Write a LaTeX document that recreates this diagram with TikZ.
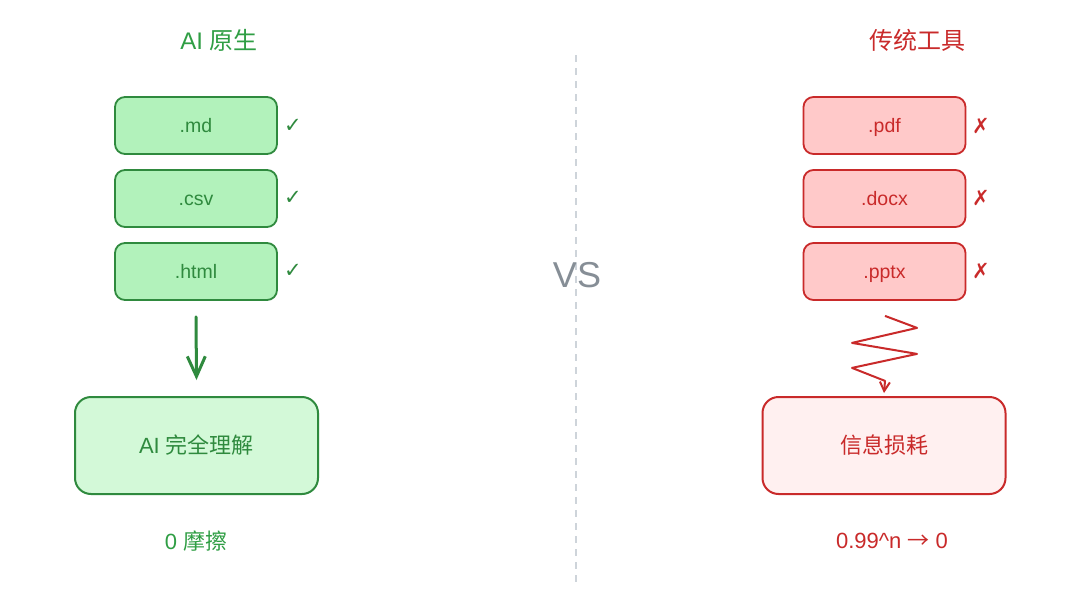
\documentclass[tikz,border=0pt]{standalone}
\usepackage{fontspec}
\setmainfont{Liberation Sans}
\newfontfamily\cjk{Noto Sans CJK SC}
\newfontfamily\sym{DejaVu Sans}
\usetikzlibrary{arrows.meta,calc}
\definecolor{gstroke}{HTML}{2F8A3E}
\definecolor{gtext}{HTML}{2F9E44}
\definecolor{gfill}{HTML}{B2F2BB}
\definecolor{gfilllight}{HTML}{D3F9D8}
\definecolor{rstroke}{HTML}{C92A2A}
\definecolor{rtext}{HTML}{C92A2A}
\definecolor{rfill}{HTML}{FFC9C9}
\definecolor{rfilllight}{HTML}{FFF0F0}
\definecolor{vsgray}{HTML}{868E96}
\definecolor{divgray}{HTML}{CED4DA}
\tikzset{
  fmt/.style={font=\fontsize{19.5}{23}\selectfont},
  smallbox/.style={rounded corners=10pt, line width=1.8pt, minimum width=162pt, minimum height=57pt, fmt, text height=15pt, text depth=2pt},
  gsmall/.style={smallbox, draw=gstroke, fill=gfill, text=gstroke},
  rsmall/.style={smallbox, draw=rstroke, fill=rfill, text=rstroke},
  bigbox/.style={rounded corners=16pt, line width=2pt, minimum width=243pt, minimum height=97pt, font=\fontsize{22}{26}\selectfont},
  gbig/.style={bigbox, draw=gstroke, fill=gfilllight, text=gstroke},
  rbig/.style={bigbox, draw=rstroke, fill=rfilllight, text=rstroke},
  title/.style={font=\fontsize{24}{28}\selectfont},
  tick/.style={font=\sym\bfseries\fontsize{21}{24}\selectfont},
  foot/.style={font=\fontsize{22}{26}\selectfont},
}
\begin{document}
\begin{tikzpicture}[x=1pt,y=-1pt]
\useasboundingbox (0,0) rectangle (1080,608);
\fill[white] (0,0) rectangle (1080,608);

% divider
\coordinate (dtop) at (576,55);
\coordinate (dbot) at (576,583);
\draw[divgray, line width=1.5pt, dash pattern=on 7pt off 6pt] (dtop) -- (dbot);
\node[text=vsgray, font=\fontsize{36}{40}\selectfont] (vs) at (577,275) {VS};

% left side
\node[title, text=gtext] (ltitle) at (219,40) {AI {\cjk 原生}};
\node[gsmall] (md) at (196,125.5) {.md};
\node[gsmall] (csv) at (196,198.5) {.csv};
\node[gsmall] (html) at (196,271.5) {.html};
\node[tick, text=gstroke] (c1) at (293,126) {✓};
\node[tick, text=gstroke] (c2) at (293,198) {✓};
\node[tick, text=gstroke] (c3) at (293,271) {✓};
\node[gbig] (ai) at (196.5,445.5) {AI {\cjk 完全理解}};
\draw[gstroke, line width=3pt, line cap=round, -{Straight Barb[length=20pt,width=18pt,line width=3pt]}]
  ($(html.south)+(0,16)$) -- ($(ai.north)+(0,-16)$);
\node[foot, text=gtext] (l0) at (196,541) {0 {\cjk 摩擦}};

% right side
\node[title, text=rtext, font=\cjk\fontsize{24}{28}\selectfont] (rtitle) at (917,40) {传统工具};
\node[rsmall] (pdf) at (884.5,125.5) {.pdf};
\node[rsmall] (docx) at (884.5,198.5) {.docx};
\node[rsmall] (pptx) at (884.5,271.5) {.pptx};
\node[tick, text=rstroke] (x1) at (981,126) {✗};
\node[tick, text=rstroke] (x2) at (981,198) {✗};
\node[tick, text=rstroke] (x3) at (981,271) {✗};
\node[rbig, font=\cjk\fontsize{22}{26}\selectfont] (loss) at (884,445.5) {信息损耗};
\draw[rstroke, line width=2pt, line join=round, -{Straight Barb[length=9pt,width=10pt,line width=2pt]}]
  ($(pptx.south)+(0.5,15)$) -- ++(32,12) -- ++(-65,15) -- ++(65,11) -- ++(-65,14) -- ++(33,13) -- ($(loss.north)+(0,-3)$);
\node[foot, text=rtext] (r0) at (892,541) {0.99\^{}n {\cjk →} 0};
\end{tikzpicture}
\end{document}
